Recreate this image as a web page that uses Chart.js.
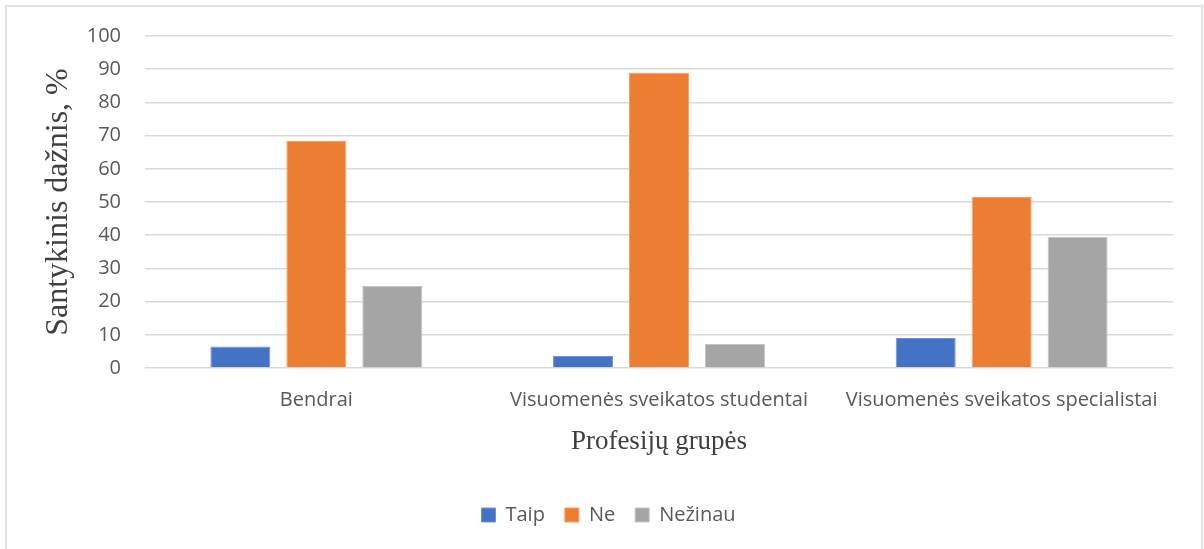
<!DOCTYPE html>
<html>
<head>
<meta charset="utf-8">
<script src="https://cdn.jsdelivr.net/npm/chart.js@4"></script>
<style>
  html, body { margin: 0; padding: 0; background: #fff; }
  #wrap { position: relative; width: 1204px; height: 549px; }
</style>
</head>
<body>
<div id="wrap"><canvas id="chartCanvas" width="1204" height="549"></canvas></div>
<script>
// Profession groups and answer shares, %
const groups = ['Bendrai', 'Visuomenės sveikatos studentai', 'Visuomenės sveikatos specialistai'];
const taip = [6.5, 3.6, 9.0];
const ne = [68.4, 88.9, 51.5];
const nezinau = [24.7, 7.2, 39.5];
const yTicks = [0, 10, 20, 30, 40, 50, 60, 70, 80, 90, 100];

const tickFont = { family: 'Open Sans, Liberation Sans, sans-serif', size: 20 };
const serif = 'Liberation Serif, Times New Roman, serif';

// light frame round the whole chart, legend nudged to the frame's centre
const frame = {
  id: 'frame',
  afterLayout(chart) {
    chart.legend.left += 22;
    chart.legend.right += 22;
  },
  beforeDraw(chart) {
    const c = chart.ctx;
    c.save();
    c.strokeStyle = '#d9d9d9';
    c.lineWidth = 1.5;
    c.strokeRect(6, 6, 1196, 560);
    c.restore();
  }
};

const ds = (label, data, color, edge) => ({
  label, data,
  backgroundColor: color,
  borderColor: edge,
  borderWidth: 1,
  categoryPercentage: 0.665,
  barPercentage: 0.79
});

new Chart(document.getElementById('chartCanvas').getContext('2d'), {
  type: 'bar',
  data: {
    labels: groups,
    datasets: [
      ds('Taip', taip, '#4472C4', '#6f93d6'),
      ds('Ne', ne, '#ED7D31', '#f3a16c'),
      ds('Nežinau', nezinau, '#A5A5A5', '#c4c4c4')
    ]
  },
  options: {
    responsive: false,
    animation: false,
    layout: { padding: { left: 0, right: 31, top: 25, bottom: 14 } },
    plugins: {
      tooltip: { enabled: false },
      legend: {
        position: 'bottom',
        labels: {
          boxWidth: 14, boxHeight: 14,
          color: '#595959',
          font: tickFont,
          padding: 20
        }
      }
    },
    scales: {
      x: {
        grid: { display: false, drawTicks: false },
        border: { display: false },
        ticks: { color: '#595959', font: tickFont, padding: 20, maxRotation: 0 },
        title: {
          display: true,
          text: 'Profesijų grupės',
          color: '#404040',
          font: { family: serif, size: 27 },
          padding: { top: 0, bottom: 27 }
        },
        afterFit(scale) { scale.height = 117; }
      },
      y: {
        min: 0, max: 100,
        afterBuildTicks(scale) { scale.ticks = yTicks.map(v => ({ value: v })); },
        grid: { color: '#d9d9d9', lineWidth: 1.5, drawTicks: false },
        border: { display: false },
        ticks: { color: '#595959', font: tickFont, padding: 24 },
        title: {
          display: true,
          text: 'Santykinis dažnis, %',
          color: '#404040',
          font: { family: serif, size: 32 },
          padding: { top: 39, bottom: 0 }
        },
        afterFit(scale) { scale.width = 145; }
      }
    }
  },
  plugins: [frame]
});
</script>
</body>
</html>
